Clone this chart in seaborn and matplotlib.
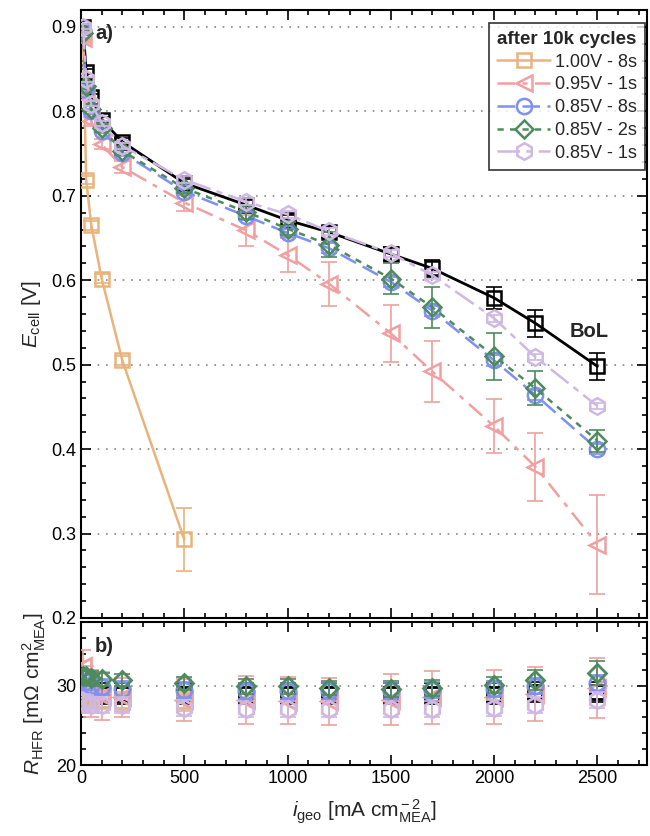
import numpy as np
import pandas as pd
import matplotlib
matplotlib.use("Agg")
import matplotlib.pyplot as plt
from matplotlib.ticker import MultipleLocator
import seaborn as sns

# ---------------- data ----------------
current = [10, 25, 50, 100, 200, 500, 800, 1000, 1200, 1500, 1700, 2000, 2200, 2500]
current_100V = [10, 25, 50, 100, 200, 500]

series_names = ["BoL", "1.00V - 8s", "0.95V - 1s", "0.85V - 8s", "0.85V - 2s", "0.85V - 1s"]

ecell_bol = [0.900, 0.847, 0.817, 0.790, 0.764, 0.715, 0.689, 0.671, 0.657, 0.631, 0.614, 0.579, 0.549, 0.498]
ecell_bol_err = [0.003, 0.003, 0.003, 0.003, 0.004, 0.005, 0.006, 0.006, 0.007, 0.008, 0.010, 0.013, 0.016, 0.016]
ecell_100_8 = [0.890, 0.719, 0.665, 0.602, 0.505, 0.293]
ecell_100_8_err = [0.004, 0.005, 0.005, 0.005, 0.005, 0.037]
ecell_095_1 = [0.887, 0.819, 0.788, 0.761, 0.734, 0.692, 0.659, 0.630, 0.596, 0.537, 0.492, 0.427, 0.379, 0.287]
ecell_095_1_err = [0.004, 0.005, 0.005, 0.006, 0.007, 0.010, 0.018, 0.020, 0.026, 0.034, 0.036, 0.032, 0.040, 0.059]
ecell_085_8 = [0.895, 0.825, 0.800, 0.777, 0.751, 0.705, 0.676, 0.656, 0.638, 0.598, 0.564, 0.505, 0.464, 0.400]
ecell_085_8_err = [0.003, 0.003, 0.003, 0.003, 0.004, 0.004, 0.005, 0.005, 0.006, 0.006, 0.006, 0.006, 0.006, 0.006]
ecell_085_2 = [0.893, 0.830, 0.803, 0.780, 0.753, 0.709, 0.681, 0.661, 0.642, 0.602, 0.568, 0.510, 0.472, 0.410]
ecell_085_2_err = [0.003, 0.003, 0.003, 0.004, 0.005, 0.006, 0.008, 0.008, 0.015, 0.018, 0.024, 0.028, 0.020, 0.013]
ecell_085_1 = [0.900, 0.838, 0.809, 0.786, 0.759, 0.719, 0.693, 0.678, 0.658, 0.632, 0.606, 0.555, 0.509, 0.451]
ecell_085_1_err = [0.003, 0.003, 0.003, 0.003, 0.004, 0.004, 0.004, 0.004, 0.004, 0.004, 0.004, 0.004, 0.004, 0.004]

hfr_bol = [29.3, 29.2, 29.0, 29.0, 29.0, 29.0, 29.0, 29.0, 29.0, 29.0, 29.0, 29.0, 29.2, 29.2]
hfr_bol_err = [1.3] * 14
hfr_100_8 = [29.0, 28.5, 28.3, 28.2, 28.0, 28.0]
hfr_100_8_err = [1.2] * 6
hfr_095_1 = [32.5, 29.5, 29.0, 28.7, 28.5, 28.2, 28.2, 28.1, 28.0, 28.2, 28.5, 28.5, 28.9, 29.7]
hfr_095_1_err = [2.0, 3.0, 3.0, 3.0, 2.5, 2.6, 3.0, 3.0, 3.0, 3.2, 3.3, 3.4, 3.4, 3.8]
hfr_085_8 = [31.0, 30.5, 30.0, 29.8, 29.6, 29.4, 29.3, 29.3, 29.3, 29.3, 29.4, 29.6, 29.9, 30.3]
hfr_085_8_err = [1.0] * 14
hfr_085_2 = [31.2, 31.2, 31.0, 30.8, 30.7, 30.3, 29.9, 29.9, 29.7, 29.6, 29.7, 30.1, 30.7, 31.6]
hfr_085_2_err = [0.8, 0.8, 0.8, 0.8, 0.8, 0.8, 0.9, 0.9, 0.9, 1.0, 1.0, 1.0, 1.2, 1.5]
hfr_085_1 = [28.0, 27.8, 27.6, 27.5, 27.5, 27.2, 27.0, 27.0, 27.0, 27.0, 27.0, 27.2, 27.6, 28.2]
hfr_085_1_err = [1.0] * 14

# ---------------- styles ----------------
sns.set_theme(style="ticks")
plt.rcParams["font.family"] = ["Liberation Sans", "DejaVu Sans"]
plt.rcParams["mathtext.fontset"] = "custom"
plt.rcParams["mathtext.rm"] = "Liberation Sans"
plt.rcParams["mathtext.it"] = "Liberation Sans:italic"
plt.rcParams["mathtext.bf"] = "Liberation Sans:bold"

styles = [
    dict(color="black", marker="s", ls="-", ms=10, zo=3),
    dict(color="#E8B47C", marker="s", ls="-", ms=10, zo=3),
    dict(color="#F0A0A0", marker="<", ls=(0, (7, 3, 2, 3)), ms=12, zo=4),
    dict(color="#7E90F2", marker="o", ls=(0, (7, 3)), ms=11, zo=5),
    dict(color="#4E8A5E", marker="D", ls=(0, (2.5, 2.5)), ms=9.5, zo=6),
    dict(color="#CFB8E2", marker="h", ls=(0, (9, 2.5, 2.5, 2.5)), ms=12, zo=7),
]

ecell = [(current, ecell_bol, ecell_bol_err), (current_100V, ecell_100_8, ecell_100_8_err),
         (current, ecell_095_1, ecell_095_1_err), (current, ecell_085_8, ecell_085_8_err),
         (current, ecell_085_2, ecell_085_2_err), (current, ecell_085_1, ecell_085_1_err)]
hfr = [(current, hfr_bol, hfr_bol_err), (current_100V, hfr_100_8, hfr_100_8_err),
       (current, hfr_095_1, hfr_095_1_err), (current, hfr_085_8, hfr_085_8_err),
       (current, hfr_085_2, hfr_085_2_err), (current, hfr_085_1, hfr_085_1_err)]

fig = plt.figure(figsize=(6.5, 8.36), dpi=100)
ax1 = fig.add_axes([81 / 650, 1 - 618 / 836, 566 / 650, 608 / 836])
ax2 = fig.add_axes([81 / 650, 1 - 765 / 836, 566 / 650, 143 / 836])

for (x, y, e), (xh, yh, eh), name, st in zip(ecell, hfr, series_names, styles):
    df = pd.DataFrame({"i": x, "E": y})
    sns.lineplot(data=df, x="i", y="E", ax=ax1, color=st["color"], linestyle=st["ls"],
                 lw=2.0 if name == "BoL" else 1.8, marker=st["marker"], ms=st["ms"],
                 mfc="none", mec=st["color"], mew=1.8, sort=False, errorbar=None,
                 zorder=st["zo"], label=name)
    ax1.errorbar(x, y, yerr=e, fmt="none", ecolor=st["color"], elinewidth=1.2,
                 capsize=5.5, capthick=1.2, zorder=st["zo"])
    dfh = pd.DataFrame({"i": xh, "R": yh})
    sns.lineplot(data=dfh, x="i", y="R", ax=ax2, color=st["color"], linestyle="none",
                 marker=st["marker"], ms=st["ms"], mfc="none", mec=st["color"], mew=2.0,
                 sort=False, errorbar=None, zorder=st["zo"])
    ax2.errorbar(xh, yh, yerr=eh, fmt="none", ecolor=st["color"], elinewidth=1.2,
                 capsize=5.5, capthick=1.2, zorder=st["zo"])

# legend (aging series only)
h, l = ax1.get_legend_handles_labels()
hl = [(hh, ll) for hh, ll in zip(h, l) if ll != "BoL"]
leg = ax1.legend([a for a, b in hl], [b for a, b in hl], title="after 10k cycles",
                 loc="upper right", bbox_to_anchor=(0.997, 0.979), frameon=True,
                 fancybox=False, edgecolor="black", fontsize=13, handlelength=2.9,
                 handletextpad=0.3, labelspacing=0.32, borderpad=0.45, borderaxespad=0.0,
                 alignment="left")
leg.get_title().set_fontweight("bold")
leg.get_title().set_fontsize(13.5)
leg.get_frame().set_linewidth(1.2)
if ax2.get_legend() is not None:
    ax2.get_legend().remove()

for ax in (ax1, ax2):
    ax.set_xlim(0, 2740)
    ax.xaxis.set_major_locator(MultipleLocator(500))
    ax.xaxis.set_minor_locator(MultipleLocator(100))
    ax.tick_params(which="both", direction="in", top=True, right=True, labelsize=13,
                   width=1.2, colors="black")
    ax.tick_params(which="major", length=7)
    ax.tick_params(which="minor", length=3.5)
    for sp in ax.spines.values():
        sp.set_linewidth(1.5)
        sp.set_color("black")
    ax.yaxis.grid(True, which="major", linestyle=(0, (1, 4)), color="#888888", lw=1.2)
    ax.set_axisbelow(True)

ax1.set_ylim(0.2, 0.92)
ax1.yaxis.set_minor_locator(MultipleLocator(0.02))
ax1.set_yticks([0.2, 0.3, 0.4, 0.5, 0.6, 0.7, 0.8, 0.9])
ax1.set_yticklabels(["0.2", "0.3", "0.4", "0.5", "0.6", "0.7", "0.8", "0.9"])
ax1.tick_params(labelbottom=False)
ax1.set_xlabel("")
ax1.set_ylabel(r"$\it{E}_{\rm cell}$ [V]", fontsize=15, labelpad=6)

ax2.set_ylim(20, 38)
ax2.set_yticks([20, 30])
ax2.yaxis.set_minor_locator(MultipleLocator(2))
ax2.set_xticks([0, 500, 1000, 1500, 2000, 2500])
ax2.set_xlabel(r"$\it{i}_{\rm geo}$ [mA cm$^{\rm -2}_{\rm MEA}$]", fontsize=15, labelpad=8)
ax2.set_ylabel(r"$\it{R}_{\rm HFR}$ [m$\Omega$ cm$^{\rm 2}_{\rm MEA}$]", fontsize=15, labelpad=6)

ax1.text(0.025, 0.962, "a)", transform=ax1.transAxes, fontsize=14.5, fontweight="bold",
         va="center", ha="left")
ax2.text(0.025, 0.827, "b)", transform=ax2.transAxes, fontsize=14.5, fontweight="bold",
         va="center", ha="left")
ax1.text(2460, 0.539, "BoL", fontsize=14.5, fontweight="bold", ha="center", va="center")

fig.align_ylabels([ax1, ax2])
fig.savefig("out.png", dpi=100)
